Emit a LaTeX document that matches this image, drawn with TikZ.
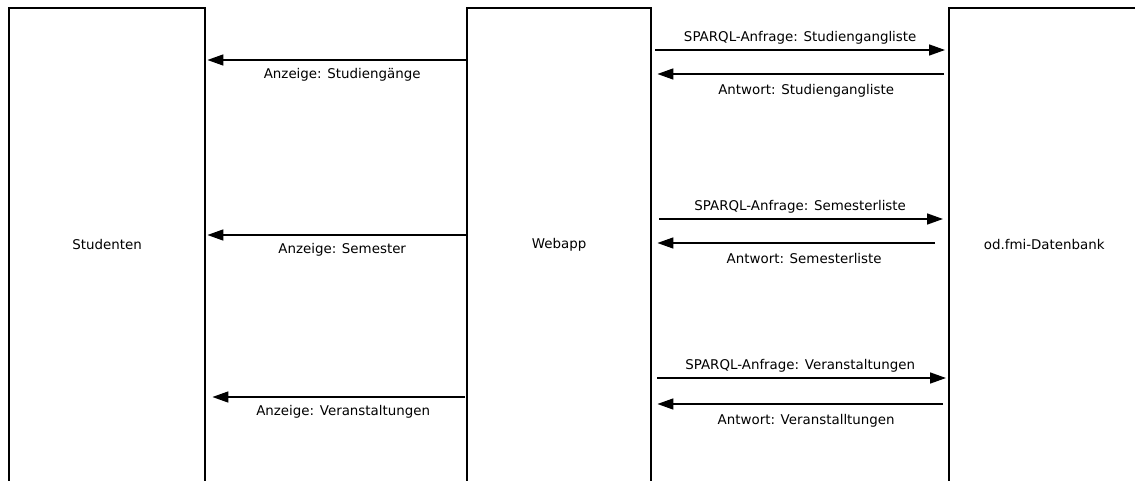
\documentclass[tikz,border=0pt]{standalone}
\usepackage{fontspec}
\setmainfont{DejaVu Sans}
\usetikzlibrary{arrows.meta}

\begin{document}
\begin{tikzpicture}[x=1pt, y=-1pt,
    lbl/.style={font=\fontsize{13.4}{15}\selectfont, inner sep=2pt},
    party/.style={lbl, minimum height=473pt, inner sep=0pt, anchor=north west},
    frame/.style={line width=2pt, line join=miter},
    msg/.style={line width=1.6pt, -{Triangle[length=16pt, width=11pt]}}]
  \useasboundingbox (0,0) rectangle (1135,481);

  % the three parties, open at the bottom
  \node[party, minimum width=196pt] (stud) at (9,8)   {Studenten};
  \node[party, minimum width=184pt] (web)  at (467,8) {Webapp};
  \node[party, minimum width=190pt] (db)   at (949,8) {od.fmi-Datenbank};
  \draw[frame] (stud.south west) -- (stud.north west) -- (stud.north east) -- (stud.south east);
  \draw[frame] (web.south west) -- (web.north west) -- (web.north east) -- (web.south east);
  \draw[frame] (db.south west) -- (db.north west) -- (db.north -| 1135,0);

  % webapp -> studenten
  \draw[msg, shorten <=1pt, shorten >=2pt] (web.west |- 0,60) -- (stud.east |- 0,60)
    node[lbl, midway, below=6pt, xshift=6pt] {Anzeige: Studiengänge};
  \draw[msg, shorten <=1pt, shorten >=2pt] (web.west |- 0,235) -- (stud.east |- 0,235)
    node[lbl, midway, below=6pt, xshift=6pt] {Anzeige: Semester};
  \draw[msg, shorten <=2pt, shorten >=7pt] (web.west |- 0,397) -- (stud.east |- 0,397)
    node[lbl, midway, below=6pt, xshift=7pt] {Anzeige: Veranstaltungen};

  % webapp <-> datenbank
  \draw[msg, shorten <=4pt, shorten >=4pt] (web.east |- 0,50) -- (db.west |- 0,50)
    node[lbl, midway, above=3pt] {SPARQL-Anfrage: Studiengangliste};
  \draw[msg, shorten <=5pt, shorten >=6pt] (db.west |- 0,74) -- (web.east |- 0,74)
    node[lbl, midway, below=8pt, xshift=6pt] {Antwort: Studiengangliste};
  \draw[msg, shorten <=8pt, shorten >=6pt] (web.east |- 0,219) -- (db.west |- 0,219)
    node[lbl, midway, above=3pt] {SPARQL-Anfrage: Semesterliste};
  \draw[msg, shorten <=14pt, shorten >=6pt] (db.west |- 0,243) -- (web.east |- 0,243)
    node[lbl, midway, below=8pt, xshift=4pt] {Antwort: Semesterliste};
  \draw[msg, shorten <=6pt, shorten >=3pt] (web.east |- 0,378) -- (db.west |- 0,378)
    node[lbl, midway, above=3pt] {SPARQL-Anfrage: Veranstaltungen};
  \draw[msg, shorten <=6pt, shorten >=6pt] (db.west |- 0,404) -- (web.east |- 0,404)
    node[lbl, midway, below=8pt, xshift=6pt] {Antwort: Veranstalltungen};
\end{tikzpicture}
\end{document}
